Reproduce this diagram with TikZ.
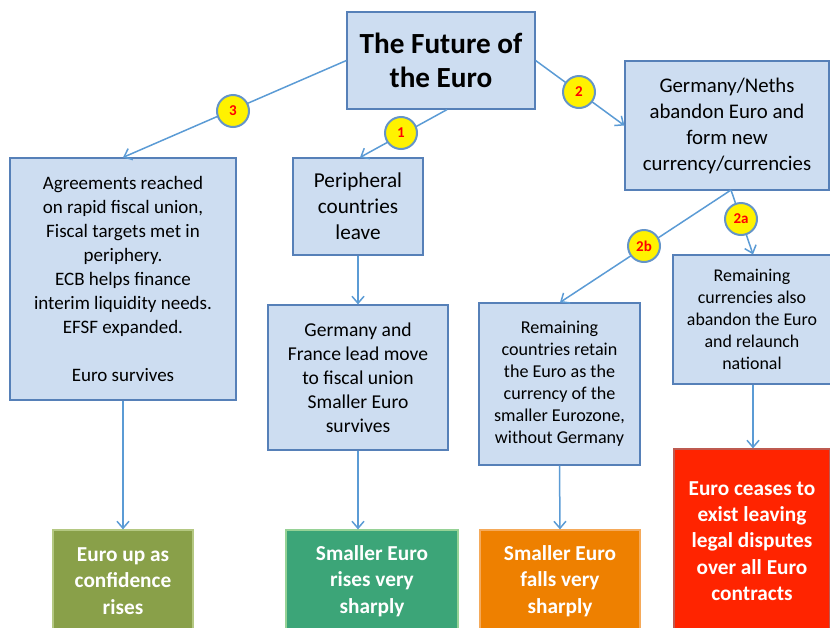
\documentclass[tikz,border=0pt]{standalone}
\usepackage{fontspec}
\setmainfont{Carlito}
\usetikzlibrary{arrows.meta,calc}
\definecolor{boxfill}{RGB}{205,221,241}
\definecolor{boxline}{RGB}{86,128,184}
\definecolor{wire}{RGB}{91,155,213}
\definecolor{ringline}{RGB}{100,148,200}
\definecolor{olive}{RGB}{137,160,73}
\definecolor{olivel}{RGB}{180,200,130}
\definecolor{teal}{RGB}{60,165,120}
\definecolor{teall}{RGB}{150,210,150}
\definecolor{orng}{RGB}{238,128,0}
\definecolor{orngl}{RGB}{245,170,90}
\definecolor{redbox}{RGB}{255,36,0}
\definecolor{redl}{RGB}{190,90,80}
\tikzset{
  blue box/.style={draw=boxline, fill=boxfill, line width=1.2pt, align=center,
    inner sep=0pt, text=black},
  outcome/.style={line width=1.2pt, align=center, inner sep=0pt, text=white,
    font=\fontsize{21.3}{26.3}\selectfont\bfseries},
  link/.style={draw=wire, line width=1.5pt, -{Straight Barb[length=7pt,width=12pt,line width=1.5pt]}},
  badge/.style={circle, draw=ringline, fill=yellow, line width=2pt, minimum size=32pt,
    inner sep=0pt, text=red, font=\fontsize{15}{15}\selectfont\bfseries},
}
\begin{document}
\begin{tikzpicture}[x=1pt,y=-1pt]
\useasboundingbox (0,0) rectangle (830,627);
\clip (0,0) rectangle (830,627);

% scenario boxes
\node[blue box, minimum width=188pt, minimum height=97pt,
  font=\fontsize{29.2}{34}\selectfont\bfseries] (title) at (441,60.5)
  {The Future of\\the Euro};
\node[blue box, minimum width=204pt, minimum height=129pt,
  font=\fontsize{20.8}{26}\selectfont] (gn) at (727,125.5)
  {Germany/Neths\\abandon Euro and\\form new\\currency/currencies};
\node[blue box, minimum width=226pt, minimum height=242pt,
  font=\fontsize{19}{24}\selectfont] (agree) at (123,279)
  {Agreements reached\\on rapid fiscal union,\\Fiscal targets met in\\periphery.\\ECB helps finance\\interim liquidity needs.\\EFSF expanded.\\[24pt]Euro survives};
\node[blue box, minimum width=130pt, minimum height=97pt,
  font=\fontsize{21.2}{26}\selectfont] (peri) at (358,206.5)
  {Peripheral\\countries\\leave};
\node[blue box, minimum width=180pt, minimum height=145pt,
  font=\fontsize{19.6}{24}\selectfont] (gf) at (358,377.5)
  {Germany and\\France lead move\\to fiscal union\\Smaller Euro\\survives};
\node[blue box, minimum width=161pt, minimum height=162pt,
  font=\fontsize{18.1}{22}\selectfont] (retain) at (559.5,384)
  {Remaining\\countries retain\\the Euro as the\\currency of the\\smaller Eurozone,\\without Germany};
\node[blue box, minimum width=158pt, minimum height=129pt,
  font=\fontsize{17.9}{22}\selectfont] (relaunch) at (752,319.5)
  {Remaining\\currencies also\\abandon the Euro\\and relaunch\\national};

% outcome boxes
\node[outcome, draw=olivel, fill=olive, minimum width=140pt, minimum height=102pt] (up) at (123,581)
  {Euro up as\\confidence\\rises};
\node[outcome, draw=teall, fill=teal, minimum width=172pt, minimum height=102pt] (rises) at (372,581)
  {Smaller Euro\\rises very\\sharply};
\node[outcome, draw=orngl, fill=orng, minimum width=160pt, minimum height=102pt] (falls) at (560,581)
  {Smaller Euro\\falls very\\sharply};
\node[outcome, draw=redl, fill=redbox, minimum width=156pt, minimum height=184pt] (ceases) at (752,541)
  {Euro ceases to\\exist leaving\\legal disputes\\over all Euro\\contracts};

% branches from the title
\draw[link] (title.west) -- (agree.north);
\draw[link] ($(title.south)+(6,0)$) -- ($(peri.north)+(2,0)$);
\draw[link] (title.east) -- (gn.west);
\coordinate (split) at (731,190);
\draw[link] (split) -- ($(retain.north)+(0.5,0)$);
\draw[link] (split) -- ($(relaunch.north)+(1,0)$);

% onward links
\draw[link] (peri.south) -- (gf.north);
\draw[link] (agree.south) -- (up.north);
\draw[link] (gf.south) -- ($(rises.north)+(-14,0)$);
\draw[link] (retain.south) -- (falls.north);
\draw[link] ($(relaunch.south)+(1,0)$) -- ($(ceases.north)+(1,0)$);

% numbered badges on the branches
\node[badge] (b3) at (233,111) {3};
\node[badge] (b1) at (401,133) {1};
\node[badge] (b2) at (579,92) {2};
\node[badge] (b2b) at (644,246) {2b};
\node[badge] (b2a) at (741,219) {2a};
\end{tikzpicture}
\end{document}
